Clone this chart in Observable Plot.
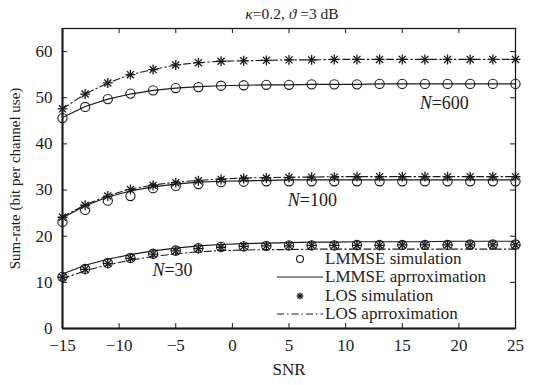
<!DOCTYPE html>
<html><head><meta charset="utf-8">
<script src="https://cdn.jsdelivr.net/npm/d3@7"></script>
<script src="https://cdn.jsdelivr.net/npm/@observablehq/plot@0.6"></script>
<style>
body{margin:0;background:#fff;}
#wrap{position:relative;width:534px;height:385px;font-family:"Liberation Serif","Times New Roman",serif;color:#222;}
#title{position:absolute;left:0;width:534px;top:5px;text-align:center;font-size:15.5px;padding-left:50px;box-sizing:border-box;}
#legend{position:absolute;left:276px;top:250px;font-size:17px;line-height:18.3px;}
.row{display:flex;align-items:center;height:18.3px;}
.row svg{width:48px;height:18px;margin-right:1px;}
</style></head>
<body><div id="wrap"><div id="title"><i>κ</i>=0.2, <i>ϑ</i> =3 dB</div><div id="legend"></div></div>
<script>
const snr = [-15,-13,-11,-9,-7,-5,-3,-1,1,3,5,7,9,11,13,15,17,19,21,23,25];
const xTicks = [-15,-10,-5,0,5,10,15,20,25];
const yTicks = [0,10,20,30,40,50,60];

const lmmseSim30 = [11.2,12.9,14.2,15.3,16.2,16.9,17.4,17.7,17.8,17.9,18.0,18.0,18.0,18.1,18.1,18.1,18.1,18.1,18.2,18.2,18.2];
const lmmseApx30 = [11.8,13.7,15.0,16.0,16.8,17.4,17.9,18.2,18.4,18.5,18.6,18.7,18.7,18.8,18.8,18.8,18.8,18.9,18.9,18.9,18.9];
const losSim30   = [11.1,12.8,14.1,15.2,16.1,16.8,17.3,17.6,17.8,17.9,17.9,18.0,18.0,18.0,18.0,18.1,18.1,18.1,18.1,18.1,18.1];
const losApx30   = [10.8,12.5,13.8,14.8,15.6,16.2,16.6,16.9,17.0,17.1,17.1,17.2,17.2,17.2,17.2,17.2,17.2,17.2,17.2,17.2,17.2];

const lmmseSim100 = [23.1,25.7,27.7,28.7,30.4,30.9,31.3,31.7,31.8,31.9,31.9,31.9,31.9,31.9,31.9,31.9,31.9,31.9,31.9,31.9,31.9];
const lmmseApx100 = [24.0,26.6,28.5,29.8,30.7,31.3,31.7,31.9,32.0,32.1,32.2,32.2,32.2,32.2,32.2,32.2,32.2,32.2,32.2,32.2,32.2];
const losSim100   = [24.1,26.7,28.7,30.1,31.0,31.6,32.0,32.3,32.5,32.6,32.7,32.8,32.8,32.9,32.9,32.9,32.9,32.9,32.9,32.9,32.9];
const losApx100   = [24.2,26.8,28.8,30.2,31.1,31.7,32.1,32.4,32.6,32.7,32.8,32.8,32.9,32.9,32.9,32.9,32.9,32.9,32.9,32.9,32.9];

const lmmseSim600 = [45.6,48.0,49.7,50.9,51.6,52.1,52.3,52.6,52.7,52.8,52.8,52.9,52.9,52.9,53.0,53.0,53.0,53.0,53.0,53.0,53.0];
const lmmseApx600 = [45.7,48.1,49.7,50.8,51.6,52.1,52.4,52.6,52.7,52.8,52.8,52.9,52.9,52.9,53.0,53.0,53.0,53.0,53.0,53.0,53.0];
const losSim600   = [47.6,50.8,53.2,55.0,56.1,57.1,57.6,57.9,58.0,58.1,58.2,58.2,58.3,58.3,58.3,58.3,58.3,58.3,58.3,58.3,58.3];
const losApx600   = [47.6,50.8,53.2,55.0,56.1,57.1,57.6,57.9,58.0,58.1,58.2,58.2,58.3,58.3,58.3,58.3,58.3,58.3,58.3,58.3,58.3];

const annotations = [
  {x: 17.6, y: 48.75, n: "600"},
  {x: 5.96, y: 27.7, n: "100"},
  {x: -6.0, y: 12.6, n: "30"}
];

const series = [
  ["LMMSE simulation","30",lmmseSim30],["LMMSE aprroximation","30",lmmseApx30],["LOS simulation","30",losSim30],["LOS aprroximation","30",losApx30],
  ["LMMSE simulation","100",lmmseSim100],["LMMSE aprroximation","100",lmmseApx100],["LOS simulation","100",losSim100],["LOS aprroximation","100",losApx100],
  ["LMMSE simulation","600",lmmseSim600],["LMMSE aprroximation","600",lmmseApx600],["LOS simulation","600",losSim600],["LOS aprroximation","600",losApx600]
];
const rows = series.flatMap(([s, n, vals]) => vals.map((v, i) => ({snr: snr[i], value: v, series: s, N: n})));
const of = s => rows.filter(d => d.series === s);

const ink = "#1a1a1a";
const chart = Plot.plot({
  width: 534, height: 385,
  marginLeft: 62, marginRight: 19, marginTop: 28, marginBottom: 57,
  style: {fontFamily: "Liberation Serif, Times New Roman, serif", fontSize: "17px", color: ink, background: "white"},
  x: {domain: [-15, 25]},
  y: {domain: [0, 65]},
  marks: [
    Plot.axisX({ticks: xTicks, tickSize: 0, tickPadding: 10, fontSize: 17, label: "SNR", labelAnchor: "center", labelOffset: 46, labelArrow: "none"}),
    Plot.axisY({ticks: yTicks, tickSize: 0, tickPadding: 10, fontSize: 17, label: null}),
    Plot.text(["Sum-rate (bit per channel use)"], {frameAnchor: "left", textAnchor: "middle", dx: -47, rotate: -90, fontSize: 15, fill: ink}),
    Plot.line(of("LMMSE aprroximation"), {x: "snr", y: "value", z: "N", stroke: ink, strokeWidth: 1.2}),
    Plot.line(of("LOS aprroximation"), {x: "snr", y: "value", z: "N", stroke: ink, strokeWidth: 1.1, strokeDasharray: "7,3,1.5,3"}),
    Plot.dot(of("LMMSE simulation"), {x: "snr", y: "value", r: 4.6, stroke: ink, strokeWidth: 1.1, fill: "none"}),
    Plot.dot(of("LOS simulation"), {x: "snr", y: "value", symbol: "plus", r: 3.3, stroke: ink, strokeWidth: 1.3}),
    Plot.dot(of("LOS simulation"), {x: "snr", y: "value", symbol: "times", r: 3.3, stroke: ink, strokeWidth: 1.3}),
    Plot.text(annotations, {x: "x", y: "y", text: () => "N", textAnchor: "end", fontStyle: "italic", fontSize: 18, fill: ink}),
    Plot.text(annotations, {x: "x", y: "y", text: d => "=" + d.n, textAnchor: "start", fontSize: 18, fill: ink}),
    Plot.tickX(xTicks, {x: d => d, insetTop: 295, stroke: ink}),
    Plot.tickX(xTicks, {x: d => d, insetBottom: 295, stroke: ink}),
    Plot.tickY(yTicks, {y: d => d, insetRight: 448, stroke: ink}),
    Plot.tickY(yTicks, {y: d => d, insetLeft: 448, stroke: ink}),
    Plot.frame({stroke: ink, strokeWidth: 1.3}),
    Plot.ruleX([-15], {stroke: ink, strokeWidth: 2}),
    Plot.ruleY([0], {stroke: ink, strokeWidth: 2})
  ]
});
document.getElementById("wrap").prepend(chart);
chart.style.position = "absolute"; chart.style.left = "0"; chart.style.top = "0";

const legendItems = [
  {label: "LMMSE simulation", sym: '<circle cx="24" cy="9" r="3.5" fill="none" stroke="#1a1a1a" stroke-width="1.1"/>'},
  {label: "LMMSE aprroximation", sym: '<line x1="1" x2="47" y1="9" y2="9" stroke="#1a1a1a" stroke-width="1.2"/>'},
  {label: "LOS simulation", sym: '<g stroke="#1a1a1a" stroke-width="1.3"><line x1="20.5" x2="27.5" y1="9" y2="9"/><line x1="24" x2="24" y1="5.5" y2="12.5"/><line x1="21.5" x2="26.5" y1="6.5" y2="11.5"/><line x1="21.5" x2="26.5" y1="11.5" y2="6.5"/></g>'},
  {label: "LOS aprroximation", sym: '<line x1="1" x2="47" y1="9" y2="9" stroke="#1a1a1a" stroke-width="1.1" stroke-dasharray="7,3,1.5,3"/>'}
];
document.getElementById("legend").innerHTML = legendItems.map(d =>
  `<div class="row"><svg viewBox="0 0 48 18">${d.sym}</svg><span>${d.label}</span></div>`).join("");
</script>
</body></html>
